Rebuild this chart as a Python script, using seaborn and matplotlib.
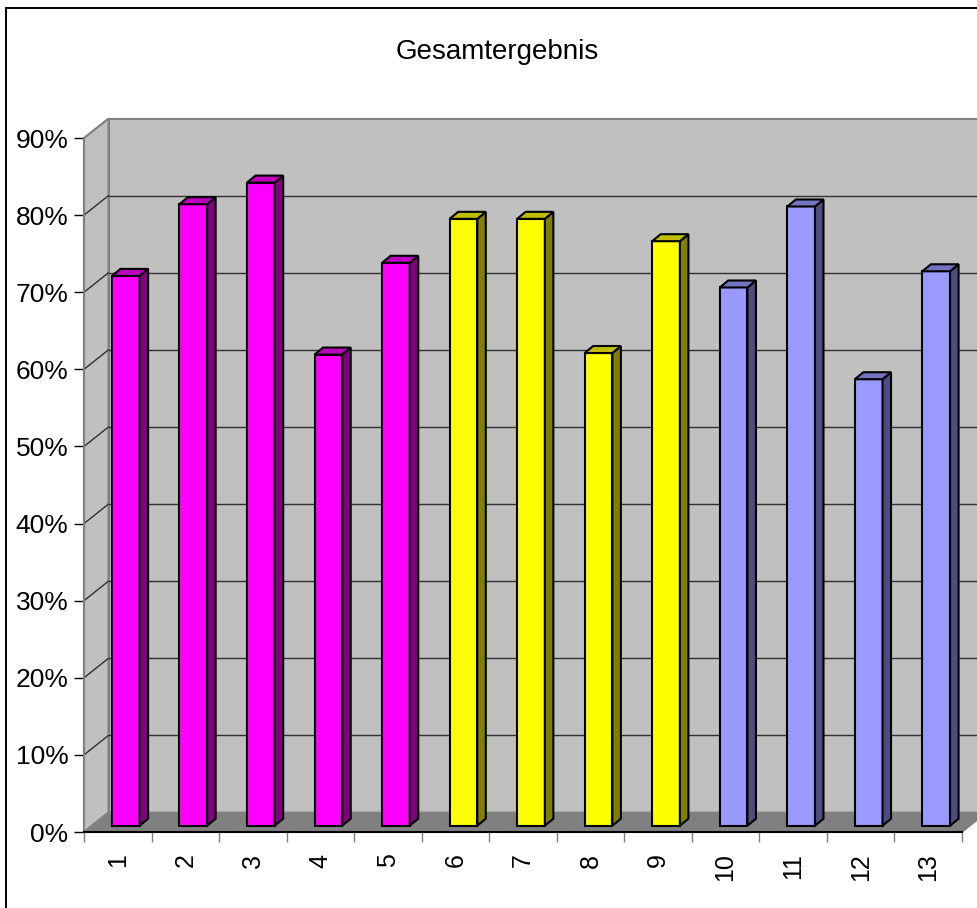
import numpy as np
import pandas as pd
import matplotlib
matplotlib.use("Agg")
import matplotlib.pyplot as plt
import seaborn as sns
from matplotlib.patches import Polygon, Rectangle
from matplotlib.lines import Line2D
from matplotlib.transforms import Affine2D, IdentityTransform
from matplotlib.ticker import PercentFormatter
from matplotlib.colors import to_rgb

# ---- data -------------------------------------------------------------
categories = [str(i) for i in range(1, 14)]
values = [0.713, 0.806, 0.834, 0.611, 0.730, 0.787, 0.787,
          0.613, 0.758, 0.698, 0.803, 0.579, 0.719]
groups = ["A"] * 5 + ["B"] * 4 + ["C"] * 4
group_colors = {"A": "#FF00FF", "B": "#FFFF00", "C": "#9999FF"}
y_ticks = [0.0, 0.1, 0.2, 0.3, 0.4, 0.5, 0.6, 0.7, 0.8, 0.9]
title = "Gesamtergebnis"

# ---- style ------------------------------------------------------------
sns.set_theme(style="white")
plt.rcParams["font.family"] = ["Liberation Sans", "DejaVu Sans"]

W, H, DPI = 978, 908, 100
fig = plt.figure(figsize=(W / DPI, H / DPI), dpi=DPI)
fig.patch.set_facecolor("white")
ax = fig.add_axes([84 / W, 76 / H, 878 / W, 694 / H])
ax.patch.set_alpha(0)

# pseudo-3D depth offsets in pixels (front of bars, back of bars, back wall)
BAR_FRONT = np.array([8.0, 6.3])
BAR_BACK = np.array([16.5, 13.3])
WALL = np.array([24.5, 19.5])

df = pd.DataFrame({"cat": categories, "val": values, "grp": groups})
sns.barplot(data=df, x="cat", y="val", hue="grp", palette=group_colors,
            width=0.41, saturation=1, dodge=False, legend=False,
            edgecolor="black", linewidth=1.5, ax=ax, zorder=5)
bars = list(ax.patches)

ax.set_xlim(-0.5, len(categories) - 0.5)
ax.set_ylim(0, 0.9)
ax.set_xlabel("")
ax.set_ylabel("")
ax.grid(False)

x0, x1 = ax.get_xlim()


def disp(x, y, off=(0.0, 0.0)):
    return ax.transData.transform((x, y)) + np.asarray(off)


def poly(pts, fc, ec, lw, z):
    p = Polygon(pts, closed=True, facecolor=fc, edgecolor=ec, linewidth=lw,
                transform=IdentityTransform(), clip_on=False, zorder=z,
                joinstyle="miter")
    ax.add_artist(p)


def seg(a, b, color, lw, z):
    ln = Line2D([a[0], b[0]], [a[1], b[1]], color=color, linewidth=lw,
                transform=IdentityTransform(), clip_on=False, zorder=z)
    ax.add_artist(ln)


# walls and floor
ymax = ax.get_ylim()[1]
poly([disp(x0, 0, WALL), disp(x1, 0, WALL), disp(x1, ymax, WALL),
      disp(x0, ymax, WALL)], "#C0C0C0", "#808080", 1.5, 0.5)
poly([disp(x0, 0), disp(x0, 0, WALL), disp(x0, ymax, WALL), disp(x0, ymax)],
     "#C0C0C0", "#808080", 1.5, 0.6)
poly([disp(x0, 0), disp(x1, 0), disp(x1, 0, WALL), disp(x0, 0, WALL)],
     "#808080", "#808080", 1.2, 0.7)

# gridlines on back and side walls
for t in y_ticks[1:-1]:
    seg(disp(x0, t, WALL), disp(x1, t, WALL), "#303030", 1.0, 0.8)
    seg(disp(x0, t), disp(x0, t, WALL), "#303030", 1.0, 0.8)

# bars: shift front face into depth, add side and top faces
for b in bars:
    b.set_transform(ax.transData + Affine2D().translate(*BAR_FRONT))
    bx, bw, bh = b.get_x(), b.get_width(), b.get_height()
    rgb = np.array(to_rgb(b.get_facecolor()))
    side = rgb * 0.5
    top = rgb * 0.75
    poly([disp(bx + bw, 0, BAR_FRONT), disp(bx + bw, 0, BAR_BACK),
          disp(bx + bw, bh, BAR_BACK), disp(bx + bw, bh, BAR_FRONT)],
         side, "black", 1.5, 6)
    poly([disp(bx, bh, BAR_FRONT), disp(bx + bw, bh, BAR_FRONT),
          disp(bx + bw, bh, BAR_BACK), disp(bx, bh, BAR_BACK)],
         top, "black", 1.5, 6)

# axes
for s in ("top", "right"):
    ax.spines[s].set_visible(False)
ax.spines["left"].set_color("#808080")
ax.spines["left"].set_linewidth(1.5)
ax.spines["bottom"].set_color("black")
ax.spines["bottom"].set_linewidth(1.5)
ax.spines["left"].set_zorder(7)
ax.spines["bottom"].set_zorder(7)

ax.set_yticks(y_ticks)
ax.yaxis.set_major_formatter(PercentFormatter(1.0, decimals=0))
ax.tick_params(axis="y", which="major", left=True, length=7.2, width=1.0,
               color="black", labelsize=19, pad=4.0, labelcolor="black")

ax.set_xticks(range(len(categories)))
ax.set_xticklabels(categories)
ax.set_xticks(np.arange(x0, x1 + 0.01, 1.0), minor=True)
ax.tick_params(axis="x", which="major", bottom=True, length=0,
               labelsize=18, pad=15.5, labelrotation=90, labelcolor="black")
ax.tick_params(axis="x", which="minor", bottom=True, length=7.2, width=1.0,
               color="#808080")

fig.text(497.5 / W, 1 - 52 / H, title, ha="center", va="center",
         fontsize=20, color="black")

# chart area frame
fig.add_artist(Rectangle((6.5 / W, -0.1), 2.0, 1.1 - 7.5 / H,
                         transform=fig.transFigure, fill=False,
                         edgecolor="black", linewidth=1.4, zorder=10))

fig.savefig("out.png", dpi=DPI)
